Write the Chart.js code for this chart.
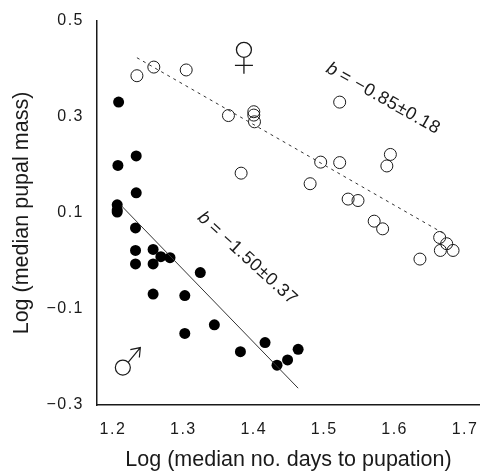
<!DOCTYPE html>
<html>
<head>
<meta charset="utf-8">
<style>
    html, body { margin: 0; padding: 0; background: #fff; }
    #wrap { width: 480px; height: 471px; }
</style>
<script src="https://cdn.jsdelivr.net/npm/chart.js"></script>
</head>
<body>
<div id="wrap"><canvas id="chart" width="480" height="471"></canvas></div>
<script>
// Values
const femaleX = [1.234, 1.258, 1.304, 1.364, 1.400, 1.400, 1.401, 1.382, 1.522, 1.495, 1.522, 1.480, 1.594, 1.589, 1.534, 1.548, 1.571, 1.583, 1.636, 1.664, 1.674, 1.665, 1.683];
const femaleY = [0.386, 0.404, 0.398, 0.303, 0.311, 0.304, 0.290, 0.183, 0.331, 0.206, 0.205, 0.161, 0.222, 0.198, 0.129, 0.126, 0.083, 0.067, 0.004, 0.049, 0.036, 0.022, 0.022];
const maleX = [1.208, 1.233, 1.207, 1.233, 1.206, 1.206, 1.206, 1.232, 1.232, 1.232, 1.257, 1.257, 1.268, 1.281, 1.324, 1.257, 1.302, 1.344, 1.302, 1.381, 1.416, 1.448, 1.463, 1.433];
const maleY = [0.331, 0.219, 0.199, 0.142, 0.117, 0.106, 0.102, 0.069, 0.022, -0.006, 0.024, -0.006, 0.009, 0.007, -0.024, -0.069, -0.072, -0.133, -0.151, -0.189, -0.170, -0.206, -0.184, -0.217];
const femaleFitX = [1.234, 1.669];
const femaleFitY = [0.4235, 0.058];
const maleFitX = [1.212, 1.463];
const maleFitY = [0.115, -0.265];

const xTicks = [1.2, 1.3, 1.4, 1.5, 1.6, 1.7];
const yTicks = [-0.3, -0.1, 0.1, 0.3, 0.5];

const xTitle = 'Log (median no. days to pupation)';
const yTitle = 'Log (median pupal mass)';
const femaleNote = '= \u22120.85\u00b10.18';
const maleNote = '= \u22121.50\u00b10.37';

const INK = '#1a1a1a';
const FONT = '"Liberation Sans", Arial, sans-serif';

const toPoints = (xs, ys) => xs.map((x, i) => ({ x: x, y: ys[i] }));

// rotated "b = ..." labels, anchored in data units
function drawNote(ctx, sx, sy, px, py, angle, text) {
    ctx.save();
    ctx.translate(sx.getPixelForValue(px), sy.getPixelForValue(py));
    ctx.rotate(angle * Math.PI / 180);
    ctx.fillStyle = INK;
    ctx.textBaseline = 'alphabetic';
    ctx.letterSpacing = '0.6px';
    ctx.font = 'italic 18px ' + FONT;
    ctx.fillText('b', 0, 0);
    ctx.font = '18px ' + FONT;
    ctx.fillText(text, 15, 0);
    ctx.restore();
}

function drawFemaleSign(ctx, cx, cy) {
    ctx.save();
    ctx.strokeStyle = INK;
    ctx.lineWidth = 1.3;
    ctx.beginPath();
    ctx.arc(cx, cy, 7.5, 0, Math.PI * 2);
    ctx.moveTo(cx, cy + 7.5);
    ctx.lineTo(cx, cy + 24);
    ctx.moveTo(cx - 9, cy + 15.5);
    ctx.lineTo(cx + 9, cy + 15.5);
    ctx.stroke();
    ctx.restore();
}

function drawMaleSign(ctx, cx, cy) {
    ctx.save();
    ctx.strokeStyle = INK;
    ctx.lineWidth = 1.2;
    ctx.beginPath();
    ctx.arc(cx, cy, 7.5, 0, Math.PI * 2);
    ctx.moveTo(cx + 5.5, cy - 5.5);
    ctx.lineTo(cx + 17.5, cy - 20);
    ctx.moveTo(cx + 7.5, cy - 18);
    ctx.lineTo(cx + 17.5, cy - 20);
    ctx.lineTo(cx + 16.5, cy - 10);
    ctx.stroke();
    ctx.restore();
}

const annotations = {
    id: 'annotations',
    afterLayout(chart) {
        // tick labels in the original are spaced out wider than the titles
        for (const s of [chart.scales.x, chart.scales.y]) {
            if (s.spacedLabels) continue;
            const drawLabels = s.drawLabels;
            s.drawLabels = function (area) {
                chart.ctx.letterSpacing = '1.5px';
                drawLabels.call(this, area);
                chart.ctx.letterSpacing = '0px';
            };
            s.spacedLabels = true;
        }
    },
    afterDatasetsDraw(chart) {
        const { ctx, scales } = chart;
        const sx = scales.x, sy = scales.y;
        drawNote(ctx, sx, sy, 1.501, 0.395, 29.5, femaleNote);
        drawNote(ctx, sx, sy, 1.319, 0.088, 42.5, maleNote);
        drawFemaleSign(ctx, sx.getPixelForValue(1.386), sy.getPixelForValue(0.44));
        drawMaleSign(ctx, sx.getPixelForValue(1.214), sy.getPixelForValue(-0.222));
    }
};

new Chart(document.getElementById('chart').getContext('2d'), {
    type: 'scatter',
    data: {
        datasets: [
            {
                data: toPoints(femaleFitX, femaleFitY),
                showLine: true,
                pointRadius: 0,
                borderColor: '#333',
                borderWidth: 1,
                borderDash: [3, 4]
            },
            {
                data: toPoints(maleFitX, maleFitY),
                showLine: true,
                pointRadius: 0,
                borderColor: '#333',
                borderWidth: 1
            },
            {
                data: toPoints(femaleX, femaleY),
                pointRadius: 6,
                pointBackgroundColor: 'rgba(255,255,255,0)',
                pointBorderColor: INK,
                pointBorderWidth: 1
            },
            {
                data: toPoints(maleX, maleY),
                pointRadius: 5.5,
                pointBackgroundColor: '#000',
                pointBorderColor: '#000',
                pointBorderWidth: 0
            }
        ]
    },
    options: {
        responsive: false,
        animation: false,
        layout: { autoPadding: false, padding: { top: 21, right: 0, bottom: 0, left: 0 } },
        plugins: {
            legend: { display: false },
            tooltip: { enabled: false }
        },
        scales: {
            x: {
                type: 'linear',
                min: 1.1773,
                max: 1.7213,
                grid: { display: false, drawTicks: true, tickLength: 6, tickColor: INK },
                border: { display: true, color: INK, width: 1.5 },
                ticks: {
                    color: INK,
                    font: { family: FONT, size: 16 },
                    padding: 9,
                    maxRotation: 0,
                    callback: v => v.toFixed(1)
                },
                title: {
                    display: true,
                    text: xTitle,
                    color: INK,
                    font: { family: FONT, size: 21.5 },
                    padding: { top: 0, bottom: -2 }
                },
                afterBuildTicks: s => { s.ticks = xTicks.map(v => ({ value: v })); },
                afterFit: s => { s.height = 66; s.paddingLeft = 0; s.paddingRight = 0; }
            },
            y: {
                type: 'linear',
                min: -0.3,
                max: 0.5,
                grid: { display: false, drawTicks: true, tickLength: 6, tickColor: INK },
                border: { display: true, color: INK, width: 1.5 },
                ticks: {
                    color: INK,
                    font: { family: FONT, size: 16 },
                    padding: 7,
                    callback: v => (v < 0 ? '\u2212' : '') + Math.abs(v).toFixed(1)
                },
                title: {
                    display: true,
                    text: yTitle,
                    color: INK,
                    font: { family: FONT, size: 21.5 },
                    padding: { top: 9, bottom: 0 }
                },
                afterBuildTicks: s => { s.ticks = yTicks.map(v => ({ value: v })); },
                afterFit: s => { s.width = 97; s.paddingTop = 0; s.paddingBottom = 0; }
            }
        }
    },
    plugins: [annotations]
});
</script>
</body>
</html>
